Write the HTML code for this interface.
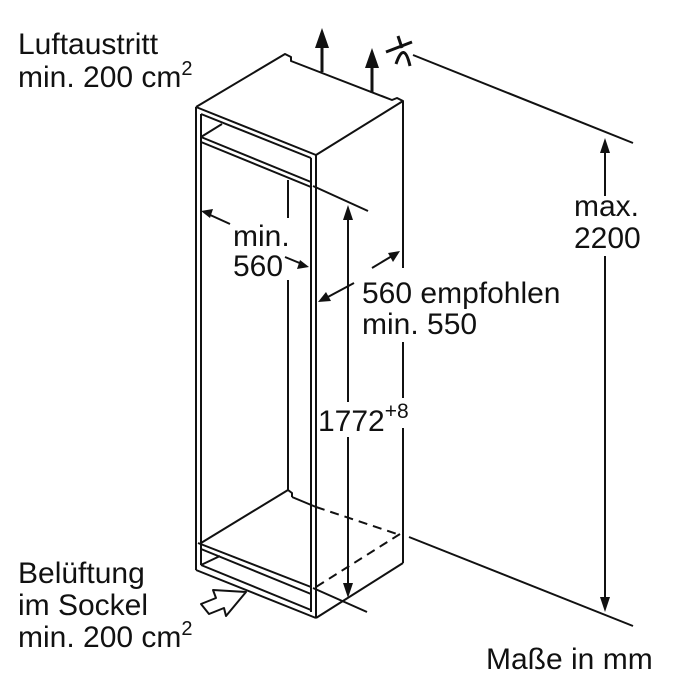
<!DOCTYPE html>
<html><head><style>
html,body{margin:0;padding:0;background:#fff;}
svg{display:block;}
text{font-family:"Liberation Sans",Arial,sans-serif;font-size:30px;fill:#111;}
</style></head><body>
<svg width="700" height="700" viewBox="0 0 700 700" xmlns="http://www.w3.org/2000/svg">
<g stroke="#111" stroke-width="2" fill="none" stroke-linejoin="round">
<polyline points="196,107 285,54 291,57 291,61 392,100 397,98 403,101 316,155 196,107"/>
<line x1="196" y1="107" x2="196" y2="570"/>
<line x1="201" y1="114" x2="201" y2="565"/>
<line x1="316" y1="155" x2="316" y2="618"/>
<line x1="311" y1="158" x2="311" y2="612"/>
<line x1="201" y1="114" x2="311" y2="158"/>
<line x1="201" y1="137" x2="311" y2="182"/>
<line x1="201" y1="142" x2="311" y2="187"/>
<line x1="201" y1="137" x2="222" y2="124"/>
<line x1="403" y1="101" x2="403" y2="268"/>
<line x1="403" y1="342" x2="403" y2="398"/>
<line x1="403" y1="428" x2="403" y2="563"/>
<line x1="316" y1="618" x2="403" y2="563"/>
<line x1="288" y1="180" x2="288" y2="218"/>
<line x1="288" y1="280" x2="288" y2="490"/>
<polyline points="288,490 292,493 292,497"/>
<line x1="201" y1="543" x2="288" y2="490"/>
<line x1="292" y1="497" x2="316" y2="507"/>
<line x1="198" y1="543" x2="311" y2="587"/>
<line x1="201" y1="549" x2="311" y2="594"/>
<line x1="201" y1="565" x2="311" y2="610"/>
<line x1="196" y1="570" x2="316" y2="618"/>
<line x1="201" y1="565" x2="220" y2="556"/>
<g stroke-dasharray="9,6">
<line x1="316" y1="507" x2="400" y2="535"/>
<line x1="400" y1="534" x2="316" y2="587"/>
</g>
<line x1="313" y1="186" x2="368" y2="211"/>
<line x1="313" y1="588" x2="367" y2="612"/>
<line x1="348" y1="215" x2="348" y2="402"/>
<line x1="348" y1="437" x2="348" y2="590"/>
<line x1="413" y1="55" x2="633" y2="143"/>
<line x1="409" y1="537" x2="633" y2="626"/>
<line x1="605" y1="148" x2="605" y2="196"/>
<line x1="605" y1="256" x2="605" y2="604"/>
<line x1="230" y1="224" x2="208" y2="214"/>
<line x1="285" y1="257" x2="302" y2="264"/>
<line x1="372" y1="268" x2="392" y2="256"/>
<line x1="354" y1="283" x2="326" y2="298"/>
<line x1="322" y1="45" x2="322" y2="72" stroke-width="3"/>
<line x1="372" y1="65" x2="372" y2="93" stroke-width="3"/>
<g stroke-width="3">
<line x1="386" y1="52" x2="412" y2="42"/>
<line x1="398" y1="36" x2="402" y2="48"/>
<path d="M396,64 Q404,40 410,66"/>
</g>
<polygon points="201,604 216,598 213,590 246,592 226,616 224,608 209,614"/>
</g>
<g fill="#111">
<polygon points="322,28 315,48 329,48"/>
<polygon points="372,48 365,68 379,68"/>
<polygon points="348,205 343,220 353,220"/>
<polygon points="348,598 343,583 353,583"/>
<polygon points="605,138 600,153 610,153"/>
<polygon points="605,612 600,597 610,597"/>
<polygon points="201,211 213,209 210,218"/>
<polygon points="309,267 297,269 300,260"/>
<polygon points="400,251 388,253 393,262"/>
<polygon points="318,302 326,292 331,301"/>
</g>
<text x="18" y="54">Luftaustritt</text>
<text x="18" y="87">min. 200 cm<tspan font-size="20" dy="-12">2</tspan></text>
<text x="574" y="216">max.</text>
<text x="574" y="248">2200</text>
<text x="233" y="246">min.</text>
<text x="233" y="276">560</text>
<text x="362" y="303">560 empfohlen</text>
<text x="362" y="334">min. 550</text>
<text x="318" y="431">1772<tspan font-size="21" dy="-13">+8</tspan></text>
<text x="18" y="583">Belüftung</text>
<text x="18" y="615">im Sockel</text>
<text x="18" y="647">min. 200 cm<tspan font-size="20" dy="-12">2</tspan></text>
<text x="486" y="669">Maße in mm</text>
</svg>
</body></html>
